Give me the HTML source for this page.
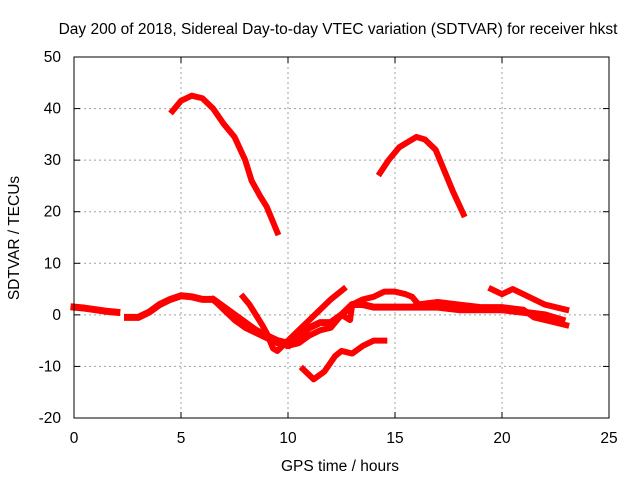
<!DOCTYPE html>
<html><head><meta charset="utf-8"><style>
body{margin:0;background:#fff}
text{font-family:"Liberation Sans",sans-serif;font-size:15.5px;fill:#000}
</style></head><body>
<svg id="c" width="640" height="480">
<rect width="640" height="480" fill="#fff"/>
<g id="grid"></g>
<g id="series"></g>
<rect x="74" y="57" width="535" height="361" fill="none" stroke="#000" stroke-width="1"/>
<g id="ticks"></g>
<text x="338" y="34" text-anchor="middle">Day 200 of 2018, Sidereal Day-to-day VTEC variation (SDTVAR) for receiver hkst</text>
<text x="340" y="471" text-anchor="middle">GPS time / hours</text>
<text x="0" y="0" transform="translate(19,238) rotate(-90)" text-anchor="middle">SDTVAR / TECUs</text>
</svg>
<script>
const xTicks=[0,5,10,15,20,25];
const yTicks=[-20,-10,0,10,20,30,40,50];
const seg1=[[4.6,39.5],[5.0,41.5],[5.5,42.5],[6.0,42],[6.5,40],[7.0,37],[7.5,34.5],[8.0,30],[8.3,26],[8.7,23],[9.0,21],[9.3,18],[9.5,16]];
const seg2=[[14.3,27.5],[14.7,30],[15.2,32.5],[15.6,33.5],[16.0,34.5],[16.4,34],[16.9,32],[17.3,28],[17.7,24],[18.2,19.5]];
const seg3=[[0,1.5],[0.5,1.3],[1,1],[1.5,0.7],[2,0.5]];
const seg4=[[2.5,-0.5],[3,-0.5],[3.5,0.5],[4,2],[4.5,3],[5,3.7],[5.5,3.5],[6,3],[6.5,3],[7,1.5],[7.5,0],[8,-1.5],[8.5,-3],[9,-4],[9.5,-5],[10,-5.5],[10.5,-4],[11,-2.5],[11.5,-1.5],[12,-1.5],[12.5,0],[13,2],[13.5,2],[14,1.5],[15,1.5],[16,1.5],[17,1.5],[18,1],[19,1],[20,1],[21,0.5],[22,0],[22.8,-1]];
const seg5=[[6.5,3],[7,1],[7.5,-1],[8,-2.5],[8.5,-3.5],[9,-4.5],[9.5,-5.5],[10,-6]];
const seg6=[[7.9,3.5],[8.2,2],[8.5,0],[8.8,-2],[9,-3.5],[9.3,-6.5],[9.5,-7],[10,-5],[10.5,-3],[11,-1],[11.5,1],[12,3],[12.6,5]];
const seg7=[[10,-6],[10.5,-5.5],[11,-4],[11.5,-3],[12,-2.5],[12.5,0],[12.9,-1],[13,2],[13.5,3],[14,3.5],[14.5,4.5],[15,4.5],[15.5,4],[15.8,3.5],[16,2.5]];
const seg8=[[10.7,-10.5],[11.2,-12.5],[11.7,-11],[12.2,-8],[12.5,-7],[13,-7.5],[13.5,-6],[14,-5],[14.5,-5]];
const seg9=[[19.5,5],[20,4],[20.5,5],[21,4],[22,2],[23,1]];
const seg10=[[16,2],[17,2.5],[18,2],[19,1.5],[20,1.5],[21,1],[21.5,-0.5],[22,-1],[23,-2]];
const allSegs=[seg1,seg2,seg3,seg4,seg5,seg6,seg7,seg8,seg9,seg10];
const NS="http://www.w3.org/2000/svg";
const xs=h=>74+h*535/25;
const ys=v=>418-(v+20)*361/70;
const grid=document.getElementById('grid'),ticks=document.getElementById('ticks'),ser=document.getElementById('series');
function mk(tag,attrs,parent){const e=document.createElementNS(NS,tag);for(const k in attrs)e.setAttribute(k,attrs[k]);parent.appendChild(e);return e;}
xTicks.forEach(t=>{const x=xs(t);
 if(t>0&&t<25){const g=mk('line',{x1:x,x2:x,y1:57,y2:418,stroke:'#a0a0a0','stroke-dasharray':'2,3'},grid);
 
 }
 mk('line',{x1:x,x2:x,y1:418,y2:412,stroke:'#000'},ticks);mk('line',{x1:x,x2:x,y1:57,y2:63,stroke:'#000'},ticks);
 const l=mk('text',{x:x,y:443,'text-anchor':'middle'},ticks);l.textContent=t;
 
 });
yTicks.forEach(t=>{const y=ys(t);
 if(t>-20&&t<50){const g=mk('line',{x1:74,x2:609,y1:y,y2:y,stroke:'#a0a0a0','stroke-dasharray':'2,3'},grid);
 
 }
 mk('line',{x1:74,x2:80,y1:y,y2:y,stroke:'#000'},ticks);mk('line',{x1:609,x2:603,y1:y,y2:y,stroke:'#000'},ticks);
 const l=mk('text',{x:61,y:y+5,'text-anchor':'end'},ticks);l.textContent=t;
 
 });
allSegs.forEach((s,i)=>{const p=mk('polyline',{points:s.map(d=>xs(d[0])+','+ys(d[1])).join(' '),fill:'none',stroke:'#ff0000','stroke-width':(i==2||i==3)?7:6,'stroke-linejoin':'round','stroke-linecap':'square'},ser);
 
 });
</script>
</body></html>
